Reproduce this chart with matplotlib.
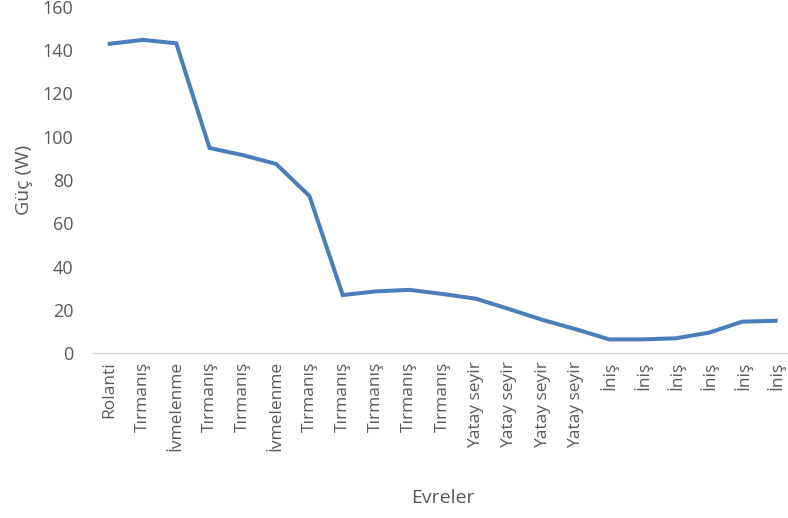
import matplotlib.pyplot as plt

# phases (x categories) and power values (W)
evreler = ["Rolanti", "Tırmanış", "İvmelenme", "Tırmanış", "Tırmanış", "İvmelenme",
           "Tırmanış", "Tırmanış", "Tırmanış", "Tırmanış", "Tırmanış",
           "Yatay seyir", "Yatay seyir", "Yatay seyir", "Yatay seyir",
           "İniş", "İniş", "İniş", "İniş", "İniş", "İniş"]
guc = [143, 144.8, 143.2, 94.8, 91.5, 87.4, 72.6, 26.8, 28.5, 29.2, 27.3,
       25.1, 20.3, 15.3, 11.0, 6.3, 6.3, 6.8, 9.4, 14.5, 14.9]

plt.rcParams['font.family'] = ['Open Sans', 'DejaVu Sans']
grey = '#595959'

fig = plt.figure(figsize=(7.88, 5.18), dpi=100)
ax = fig.add_axes([93/788, 1 - 353/518, (788 - 93)/788, (353 - 7)/518])

x = range(len(guc))
ax.plot(x, guc, color='#4a7ebb', linewidth=2.9, solid_joinstyle='miter')

ax.set_xlim(-0.5, 20.37)
ax.set_ylim(0, 160)
ax.set_yticks(range(0, 161, 20))
ax.set_xticks(list(x))
ax.set_xticklabels(evreler, rotation=90, fontsize=12.5, color=grey)
ax.tick_params(axis='y', labelsize=13, labelcolor=grey, length=0, pad=14)
ax.tick_params(axis='x', length=0, pad=6)

for s in ['top', 'right', 'left']:
    ax.spines[s].set_visible(False)
ax.spines['bottom'].set_color('#d9d9d9')
ax.spines['bottom'].set_linewidth(1)

fig.text(24/788, 1 - 180/518, "Güç (W)", fontsize=14, color=grey,
         rotation=90, ha='center', va='center')
fig.text(443/788, 1 - 498/518, "Evreler", fontsize=14, color=grey, ha='center', va='center')

plt.savefig("out.png", dpi=100)
